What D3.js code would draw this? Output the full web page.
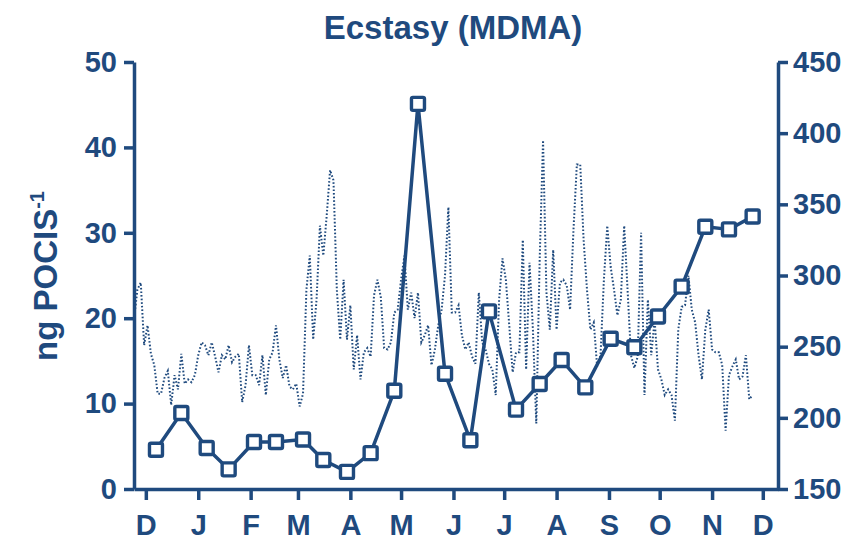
<!DOCTYPE html>
<html>
<head>
<meta charset="utf-8">
<script src="https://cdn.jsdelivr.net/npm/d3@7/dist/d3.min.js"></script>
<style>
  html, body { margin: 0; padding: 0; background: #fff; }
  svg { display: block; }
  text { font-family: "Liberation Sans", Arial, sans-serif; font-weight: bold; fill: #1f4a7e; }
</style>
</head>
<body>
<svg id="chart" width="852" height="541"></svg>
<script>
// Passive sampler (POCIS) MDMA, fortnightly exposures, left axis (ng POCIS^-1)
const pocisDates = [
  "2010-12-07","2010-12-22","2011-01-06","2011-01-19","2011-02-03","2011-02-16",
  "2011-03-04","2011-03-16","2011-03-30","2011-04-13","2011-04-27","2011-05-11",
  "2011-05-27","2011-06-11","2011-06-22","2011-07-08","2011-07-22","2011-08-04",
  "2011-08-18","2011-09-02","2011-09-16","2011-09-30","2011-10-14","2011-10-28",
  "2011-11-11","2011-11-25"
];
const pocisValues = [
  4.6, 8.9, 4.8, 2.3, 5.5, 5.5,
  5.8, 3.4, 2.0, 4.2, 11.5, 45.1,
  13.5, 5.7, 20.8, 9.3, 12.3, 15.1,
  11.9, 17.6, 16.6, 20.2, 23.7, 30.7,
  30.4, 31.9
];

// Composite sample series, one value every second day from the start date, right axis
const compositeStart = "2010-11-24";
const compositeStepDays = 2;
const compositeValues = [
  269,290,295,251,265,245,237,217,217,228,233,209,230,220,245,224,227,225,230,244,
  253,251,244,253,243,232,244,241,251,239,243,245,211,223,251,230,230,223,244,216,
  241,246,265,241,228,237,222,220,224,208,217,290,314,255,283,335,314,342,374,367,
  290,255,297,255,279,234,258,227,246,249,243,286,297,285,249,248,253,274,276,297,
  314,276,288,270,288,253,258,265,237,248,265,276,300,348,274,274,279,258,248,253,
  243,238,288,253,248,238,234,216,283,312,297,265,232,246,246,325,234,309,262,196,
  311,395,288,262,318,262,295,297,293,276,332,378,378,325,290,262,267,236,244,297,
  335,306,290,272,283,335,290,244,235,243,330,216,283,244,269,234,227,216,220,216,
  198,262,278,279,300,276,267,244,227,262,276,248,246,246,237,191,230,236,241,227,
  229,244,213,216
];

const monthLabels = ["D","J","F","M","A","M","J","J","A","S","O","N","D"];
const leftTicks = [0, 10, 20, 30, 40, 50];
const rightTicks = [150, 200, 250, 300, 350, 400, 450];
const titleText = "Ecstasy (MDMA)";

const blue = "#1f4a7e";
const parse = d3.timeParse("%Y-%m-%d");

const svg = d3.select("#chart");
const plotLeft = 134, plotRight = 778, plotTop = 62, plotBottom = 489;

const x = d3.scaleTime()
  .domain([new Date(2010, 10, 24), new Date(2011, 11, 10)])
  .range([plotLeft, plotRight]);
const yL = d3.scaleLinear().domain([0, 50]).range([plotBottom, plotTop]);
const yR = d3.scaleLinear().domain([150, 450]).range([plotBottom, plotTop]);

// dotted composite series
const startDate = parse(compositeStart);
const composite = compositeValues.map((v, i) => ({
  date: d3.timeDay.offset(startDate, i * compositeStepDays), value: v
}));
svg.append("path")
  .datum(composite)
  .attr("fill", "none")
  .attr("stroke", blue)
  .attr("stroke-width", 2)
  .attr("stroke-dasharray", "1.6 2")
  .attr("d", d3.line().x(d => x(d.date)).y(d => yR(d.value)));

// axes
function styleAxis(g) {
  g.selectAll("path.domain").attr("stroke", blue).attr("stroke-width", 3.5);
  g.selectAll(".tick line").attr("stroke", blue).attr("stroke-width", 3.5);
  g.selectAll(".tick text")
    .attr("fill", blue)
    .style("font-family", '"Liberation Sans", Arial, sans-serif')
    .style("font-weight", "bold")
    .style("font-size", "29px");
}

const gL = svg.append("g")
  .attr("transform", `translate(${plotLeft},0)`)
  .call(d3.axisLeft(yL).tickValues(leftTicks).tickSize(10).tickSizeOuter(0).tickPadding(7));
styleAxis(gL);

const gR = svg.append("g")
  .attr("transform", `translate(${plotRight},0)`)
  .call(d3.axisRight(yR).tickValues(rightTicks).tickSize(10).tickSizeOuter(0).tickPadding(5));
styleAxis(gR);

const monthTicks = d3.timeMonth.range(new Date(2010, 11, 1), new Date(2011, 11, 2));
const gX = svg.append("g")
  .attr("transform", `translate(0,${plotBottom})`)
  .call(d3.axisBottom(x).tickValues(monthTicks).tickSize(11).tickSizeOuter(0).tickPadding(14)
    .tickFormat((d, i) => monthLabels[i]));
styleAxis(gX);

// solid POCIS series with open square markers
const pocis = pocisDates.map((d, i) => ({ date: parse(d), value: pocisValues[i] }));
svg.append("path")
  .datum(pocis)
  .attr("fill", "none")
  .attr("stroke", blue)
  .attr("stroke-width", 3.5)
  .attr("stroke-linejoin", "round")
  .attr("d", d3.line().x(d => x(d.date)).y(d => yL(d.value)));

const m = 13;
svg.append("g").selectAll("rect")
  .data(pocis)
  .join("rect")
  .attr("x", d => x(d.date) - m / 2)
  .attr("y", d => yL(d.value) - m / 2)
  .attr("width", m)
  .attr("height", m)
  .attr("rx", 1.5)
  .attr("fill", "#fff")
  .attr("stroke", blue)
  .attr("stroke-width", 3.4);

// title
svg.append("text")
  .attr("x", 453)
  .attr("y", 39)
  .attr("text-anchor", "middle")
  .style("font-size", "33px")
  .text(titleText);

// left axis title with superscript
const yt = svg.append("text")
  .attr("transform", "translate(57,276) rotate(-90)")
  .attr("text-anchor", "middle")
  .style("font-size", "33px");
yt.append("tspan").text("ng POCIS");
yt.append("tspan").attr("dy", -13).style("font-size", "20px").text("-1");
</script>
</body>
</html>
